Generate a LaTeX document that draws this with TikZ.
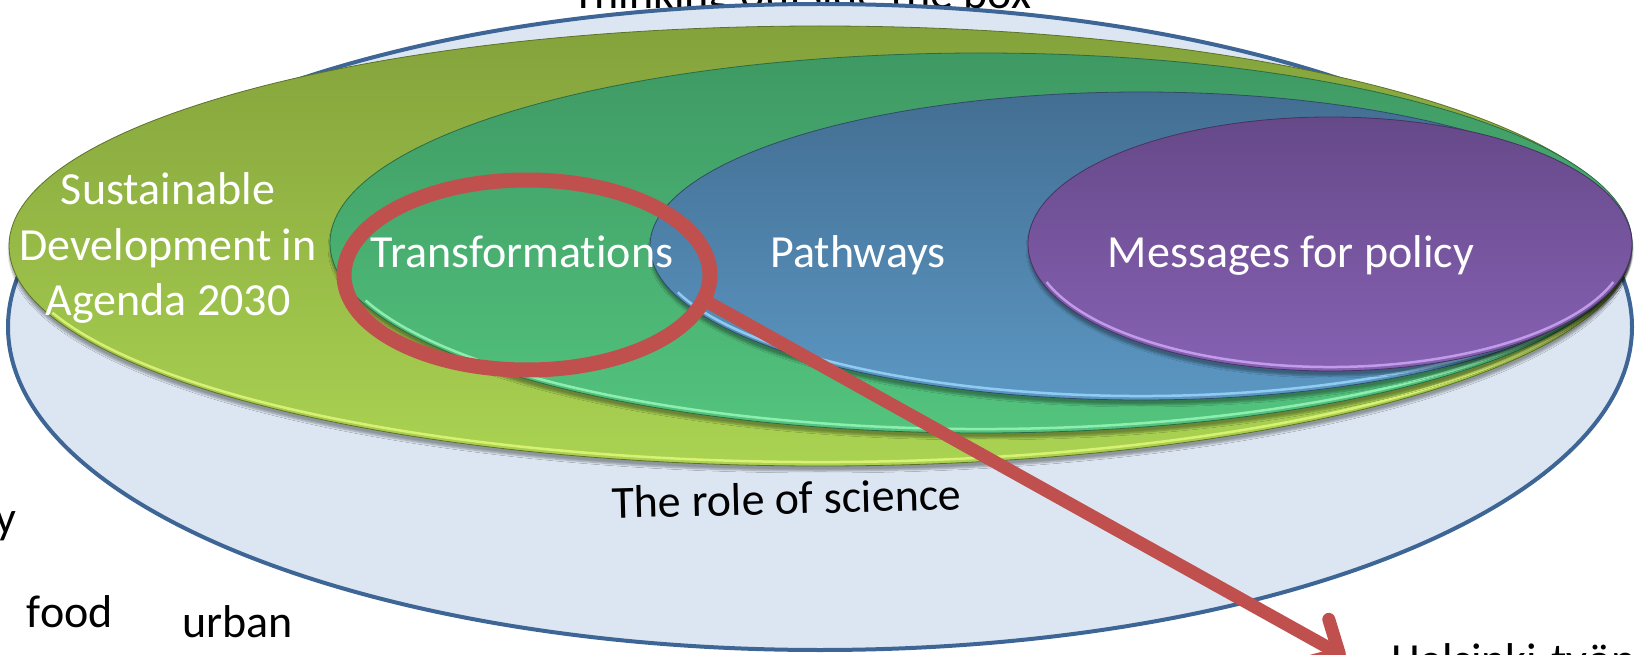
\documentclass[tikz,border=0pt]{standalone}
\usepackage{fontspec}
\setmainfont{Carlito}[Ligatures=NoCommon]
\usetikzlibrary{shapes.geometric,arrows.meta,shadows.blur}
\definecolor{outerfill}{HTML}{DCE6F2}
\definecolor{outerline}{HTML}{3D6595}
\definecolor{ygtop}{HTML}{84A23B}
\definecolor{ygbot}{HTML}{AAD352}
\definecolor{ygrim}{HTML}{E2F77A}
\definecolor{grtop}{HTML}{3E9963}
\definecolor{grbot}{HTML}{53C47E}
\definecolor{grrim}{HTML}{98F7B8}
\definecolor{bltop}{HTML}{436E92}
\definecolor{blbot}{HTML}{5B97C3}
\definecolor{blrim}{HTML}{9AD6FA}
\definecolor{putop}{HTML}{664989}
\definecolor{pubot}{HTML}{8661B3}
\definecolor{purim}{HTML}{CDA6F4}
\definecolor{redline}{HTML}{C0504D}
\begin{document}
\begin{tikzpicture}[x=1pt,y=-1pt,
  lbl/.style={font=\fontsize{46}{55.5}\selectfont, inner sep=0pt, outer sep=0pt},
  wlbl/.style={lbl,text=white},
  blob/.style={ellipse, inner sep=0pt, outer sep=0pt,
    blur shadow={shadow xshift=0pt, shadow yshift=-5pt, shadow opacity=35, shadow blur steps=6}},
  rim/.style={line width=2.5pt, opacity=0.85},
  ringstyle/.style={ellipse, draw=redline, line width=15pt, inner sep=0pt, outer sep=0pt},
  arrowline/.style={draw=redline, line width=13pt, line cap=round,
    -{Straight Barb[length=26pt, width=50pt, round]}}]
\useasboundingbox (0,0) rectangle (1639,655);
\clip (0,0) rectangle (1639,655);
% title (mostly hidden above the picture and behind the outer ellipse)
\node[lbl, anchor=base west] (title) at (572,9) {Thinking outside the box};
% outer ellipse
\node[ellipse, draw=outerline, fill=outerfill, line width=4pt, inner sep=0pt,
  minimum width=1624pt, minimum height=646pt] (outer) at (820,327) {};
% yellow-green
\node[blob, top color=ygtop, bottom color=ygbot, draw=ygtop!70!black, line width=0.8pt,
  minimum width=1622pt, minimum height=440pt] (yg) at (820,246) {};
\draw[rim, ygrim] (yg.center) ++(18:807 and 216) arc[start angle=18, end angle=162, x radius=807, y radius=216];
% green
\node[blob, top color=grtop, bottom color=grbot, draw=grtop!70!black, line width=0.8pt,
  minimum width=1302pt, minimum height=380pt] (gr) at (981,243) {};
\draw[rim, grrim] (gr.center) ++(18:647 and 186) arc[start angle=18, end angle=162, x radius=647, y radius=186];
% blue
\node[blob, top color=bltop, bottom color=blbot, draw=bltop!70!black, line width=0.8pt,
  minimum width=982pt, minimum height=308pt] (bl) at (1141,246) {};
\draw[rim, blrim] (bl.center) ++(18:487 and 150) arc[start angle=18, end angle=162, x radius=487, y radius=150];
% purple
\node[blob, top color=putop, bottom color=pubot, draw=putop!70!black, line width=0.8pt,
  minimum width=604pt, minimum height=254pt] (pu) at (1330,244) {};
\draw[rim, purim] (pu.center) ++(18:298 and 123) arc[start angle=18, end angle=162, x radius=298, y radius=123];
% labels
\node[wlbl, align=center] (sd) at (168,248) {Sustainable\\Development in\\Agenda 2030};
\node[wlbl, anchor=base] (tr) at (522,268) {Transformations};
\node[wlbl, anchor=base] (pw) at (858,268) {Pathways};
\node[wlbl, anchor=base] (mp) at (1291,268) {Messages for policy};
\node[lbl, anchor=base, rotate=1.5] (rs) at (787,514) {The role of science};
\node[lbl, anchor=base east] (yy) at (16,533) {y};
\node[lbl, anchor=base west] (food) at (27,627) {food};
\node[lbl, anchor=base west] (urban) at (182,637) {urban};
\node[lbl, anchor=base west] (hel) at (1391,675) {Helsinki-työpaja};
% red ring and arrow
\node[ringstyle, minimum width=366pt, minimum height=190pt] (ring) at (527,275) {};
\coordinate (tip) at (1345,657);
\draw[arrowline] (ring.-8) -- (tip);
\end{tikzpicture}
\end{document}
